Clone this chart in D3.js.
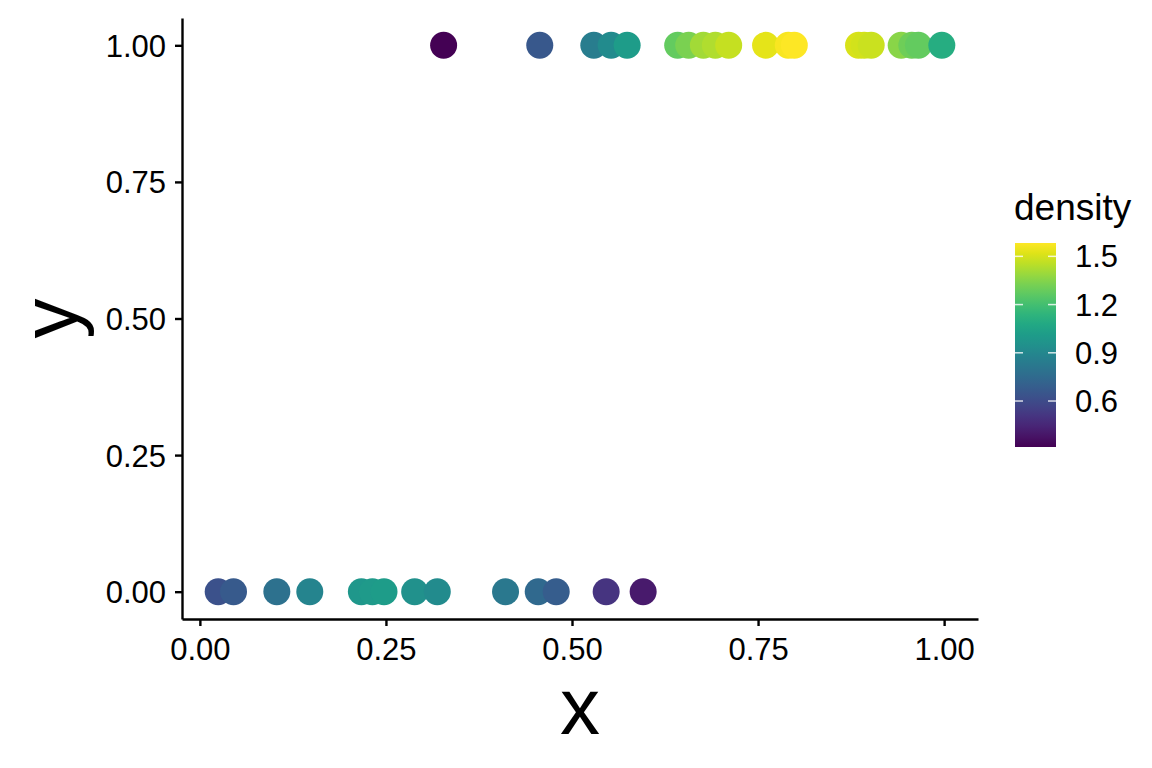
<!DOCTYPE html>
<html>
<head>
<meta charset="utf-8">
<script src="https://cdn.jsdelivr.net/npm/d3@7"></script>
<style>
  body { margin: 0; background: #fff; }
  text { font-family: "Liberation Sans", Arial, sans-serif; }
</style>
</head>
<body>
<div id="plot"></div>
<script>
// points on the y = 1 row
const topX = [0.3275, 0.4567, 0.5293, 0.5526, 0.5741, 0.642, 0.6568, 0.6765, 0.6926, 0.7105,
              0.7601, 0.7906, 0.7987, 0.885, 0.8926, 0.902, 0.9423, 0.9566, 0.9655, 0.9969];
const topDensity = [0.314, 0.657, 0.847, 0.923, 1.012, 1.278, 1.329, 1.405, 1.431, 1.469,
                    1.532, 1.570, 1.583, 1.507, 1.495, 1.481, 1.355, 1.304, 1.278, 1.101];
// points on the y = 0 row
const bottomX = [0.0246, 0.0452, 0.1034, 0.1477, 0.217, 0.2318, 0.2474, 0.2886, 0.319,
                 0.4107, 0.4546, 0.4788, 0.5459, 0.5956];
const bottomDensity = [0.631, 0.669, 0.784, 0.885, 0.987, 1.0, 1.012, 0.949, 0.923,
                       0.822, 0.745, 0.682, 0.504, 0.403];

const xTicks = [0, 0.25, 0.5, 0.75, 1];
const yTicks = [0, 0.25, 0.5, 0.75, 1];
const legendTicks = [0.6, 0.9, 1.2, 1.5];

const points = topX.map((x, i) => ({ x: x, y: 1, density: topDensity[i] }))
  .concat(bottomX.map((x, i) => ({ x: x, y: 0, density: bottomDensity[i] })));

const W = 1152, H = 768;
const panel = { left: 182, right: 978, top: 18, bottom: 619 };

const svg = d3.select("#plot")
  .append("svg")
  .attr("width", W)
  .attr("height", H);

// ggplot style 5% expansion
const xExt = d3.extent(points, d => d.x);
const xPad = (xExt[1] - xExt[0]) * 0.05;
const x = d3.scaleLinear()
  .domain([xExt[0] - xPad, xExt[1] + xPad])
  .range([panel.left, panel.right]);

const y = d3.scaleLinear()
  .domain([-0.05, 1.05])
  .range([panel.bottom, panel.top]);

const color = d3.scaleSequential(d3.interpolateViridis)
  .domain(d3.extent(points, d => d.density));

// points
svg.append("g")
  .selectAll("circle")
  .data(points)
  .enter()
  .append("circle")
  .attr("cx", d => x(d.x))
  .attr("cy", d => y(d.y))
  .attr("r", 13.5)
  .attr("fill", d => color(d.density));

// axes
const xAxis = svg.append("g")
  .attr("transform", `translate(0,${panel.bottom})`)
  .call(d3.axisBottom(x).tickValues(xTicks).tickFormat(d3.format(".2f"))
    .tickSize(7).tickSizeOuter(0).tickPadding(6));

const yAxis = svg.append("g")
  .attr("transform", `translate(${panel.left},0)`)
  .call(d3.axisLeft(y).tickValues(yTicks).tickFormat(d3.format(".2f"))
    .tickSize(7).tickSizeOuter(0).tickPadding(9));

[xAxis, yAxis].forEach(g => {
  g.select(".domain").attr("stroke", "#000").attr("stroke-width", 2.4);
  g.selectAll(".tick line").attr("stroke", "#000").attr("stroke-width", 2.4);
  g.selectAll(".tick text")
    .attr("fill", "#000")
    .style("font-size", "31px")
    .style("font-family", "Liberation Sans, Arial, sans-serif");
});
xAxis.selectAll(".tick text").attr("dy", null).attr("y", 41);
yAxis.selectAll(".tick text").attr("dy", null).attr("y", 11);

// axis titles
svg.append("text")
  .attr("x", (panel.left + panel.right) / 2)
  .attr("y", 734)
  .attr("text-anchor", "middle")
  .style("font-size", "80px")
  .text("x");

svg.append("text")
  .attr("transform", `translate(77,${(panel.top + panel.bottom) / 2}) rotate(-90)`)
  .attr("text-anchor", "middle")
  .style("font-size", "80px")
  .text("y");

// colour bar legend
const bar = { x: 1015, w: 41, top: 243, bottom: 447 };
const ly = d3.scaleLinear()
  .domain(color.domain())
  .range([bar.bottom, bar.top]);

const grad = svg.append("defs").append("linearGradient")
  .attr("id", "viridisGrad")
  .attr("x1", 0).attr("y1", 1).attr("x2", 0).attr("y2", 0);
d3.range(0, 1.0001, 0.05).forEach(t => {
  grad.append("stop")
    .attr("offset", t)
    .attr("stop-color", d3.interpolateViridis(t));
});

svg.append("rect")
  .attr("x", bar.x)
  .attr("y", bar.top)
  .attr("width", bar.w)
  .attr("height", bar.bottom - bar.top)
  .attr("fill", "url(#viridisGrad)");

const lg = svg.append("g");
legendTicks.forEach(v => {
  const ty = ly(v);
  lg.append("line")
    .attr("x1", bar.x).attr("x2", bar.x + 8)
    .attr("y1", ty).attr("y2", ty)
    .attr("stroke", "#fff").attr("stroke-opacity", 0.8).attr("stroke-width", 1.5);
  lg.append("line")
    .attr("x1", bar.x + bar.w - 8).attr("x2", bar.x + bar.w)
    .attr("y1", ty).attr("y2", ty)
    .attr("stroke", "#fff").attr("stroke-opacity", 0.8).attr("stroke-width", 1.5);
  lg.append("text")
    .attr("x", 1075)
    .attr("y", ty + 11)
    .style("font-size", "31px")
    .text(d3.format(".1f")(v));
});

svg.append("text")
  .attr("x", 1014)
  .attr("y", 220)
  .style("font-size", "37px")
  .text("density");
</script>
</body>
</html>
